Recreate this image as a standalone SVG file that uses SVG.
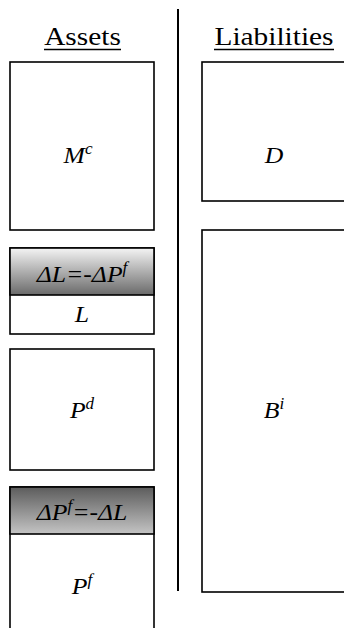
<svg xmlns="http://www.w3.org/2000/svg" width="344" height="628" viewBox="0 0 344 628">
<defs>
<linearGradient id="gUp" x1="0" y1="0" x2="0" y2="1">
<stop offset="0" stop-color="#f4f4f4"/>
<stop offset="1" stop-color="#6a6a6a"/>
</linearGradient>
<linearGradient id="gDown" x1="0" y1="0" x2="0" y2="1">
<stop offset="0" stop-color="#5c5c5c"/>
<stop offset="1" stop-color="#c4c4c4"/>
</linearGradient>
<style>
.box{fill:#fff;stroke:#000;stroke-width:1.6}
.hdr{stroke:#000;stroke-width:1.6}
.lbl{font-family:"Liberation Serif","Times New Roman",serif;font-style:italic;font-size:24px;fill:#000;text-anchor:middle}
.ttl{font-family:"Liberation Serif","Times New Roman",serif;font-size:26px;fill:#000;text-anchor:middle}
.sup{font-size:16px}
.ul{stroke:#000;stroke-width:1.5}
.div{stroke:#000;stroke-width:2}
</style>
</defs>
<rect width="344" height="628" fill="#fff"/>
<g id="titles">
<g transform="translate(82.5,45) scale(1.13,1)"><text class="ttl" x="0" y="0">Assets</text></g>
<line class="ul" x1="44" y1="49.5" x2="121" y2="49.5"/>
<g transform="translate(274,45) scale(1.13,1)"><text class="ttl" x="0" y="0">Liabilities</text></g>
<line class="ul" x1="214" y1="49.5" x2="334" y2="49.5"/>
</g>
<g id="divider"><line class="div" x1="178" y1="9" x2="178" y2="591"/></g>
<g id="Mc">
<rect class="box" x="10" y="62" width="144" height="168"/>
<g transform="translate(78,163) scale(1.07,1)"><text class="lbl" x="0" y="0">M<tspan class="sup" dy="-9">c</tspan></text></g>
</g>
<g id="L">
<rect class="box" x="10" y="248" width="144" height="86"/>
<rect class="hdr" x="10" y="248" width="144" height="47" fill="url(#gUp)"/>
<g transform="translate(82,282) scale(1.07,1)"><text class="lbl" x="0" y="0">ΔL=-ΔP<tspan class="sup" dy="-9">f</tspan></text></g>
<g transform="translate(82,322) scale(1.07,1)"><text class="lbl" x="0" y="0">L</text></g>
</g>
<g id="Pd">
<rect class="box" x="10" y="349" width="144" height="121"/>
<g transform="translate(82,418) scale(1.07,1)"><text class="lbl" x="0" y="0">P<tspan class="sup" dy="-9">d</tspan></text></g>
</g>
<g id="Pf">
<rect class="box" x="10" y="487" width="144" height="160"/>
<rect class="hdr" x="10" y="487" width="144" height="47" fill="url(#gDown)"/>
<g transform="translate(82,520) scale(1.07,1)"><text class="lbl" x="0" y="0">ΔP<tspan class="sup" dy="-9">f</tspan><tspan dy="9">=-ΔL</tspan></text></g>
<g transform="translate(82,594) scale(1.07,1)"><text class="lbl" x="0" y="0">P<tspan class="sup" dy="-9">f</tspan></text></g>
</g>
<g id="D">
<rect class="box" x="202" y="62" width="160" height="139"/>
<g transform="translate(274,163) scale(1.07,1)"><text class="lbl" x="0" y="0">D</text></g>
</g>
<g id="Bi">
<rect class="box" x="202" y="230" width="160" height="362"/>
<g transform="translate(274,418) scale(1.07,1)"><text class="lbl" x="0" y="0">B<tspan class="sup" dy="-9">i</tspan></text></g>
</g>
<g id="connectors"/>
</svg>
